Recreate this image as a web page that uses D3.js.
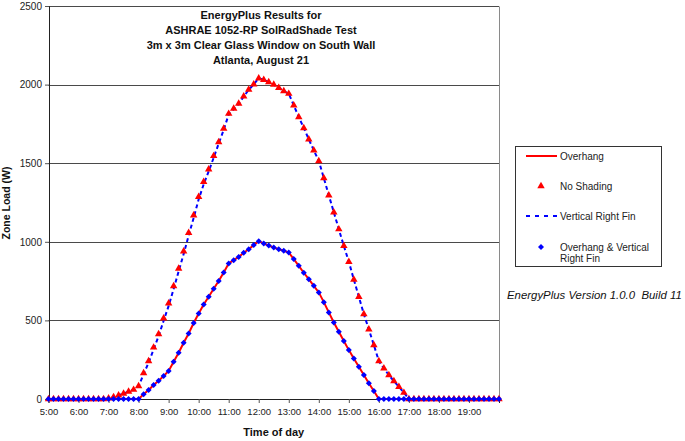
<!DOCTYPE html>
<html>
<head>
<meta charset="utf-8">
<script src="https://cdn.jsdelivr.net/npm/d3@7"></script>
<style>
  body { margin: 0; background: #fff; }
  svg { display: block; font-family: 'Liberation Sans', Arial, sans-serif; }
</style>
</head>
<body>
<svg id="chart" width="685" height="441"></svg>
<script>
// 10 minute time steps, 5:00 .. 20:00
const times = [
  '5:00', '5:10', '5:20', '5:30', '5:40', '5:50',
  '6:00', '6:10', '6:20', '6:30', '6:40', '6:50',
  '7:00', '7:10', '7:20', '7:30', '7:40', '7:50',
  '8:00', '8:10', '8:20', '8:30', '8:40', '8:50',
  '9:00', '9:10', '9:20', '9:30', '9:40', '9:50',
  '10:00', '10:10', '10:20', '10:30', '10:40', '10:50',
  '11:00', '11:10', '11:20', '11:30', '11:40', '11:50',
  '12:00', '12:10', '12:20', '12:30', '12:40', '12:50',
  '13:00', '13:10', '13:20', '13:30', '13:40', '13:50',
  '14:00', '14:10', '14:20', '14:30', '14:40', '14:50',
  '15:00', '15:10', '15:20', '15:30', '15:40', '15:50',
  '16:00', '16:10', '16:20', '16:30', '16:40', '16:50',
  '17:00', '17:10', '17:20', '17:30', '17:40', '17:50',
  '18:00', '18:10', '18:20', '18:30', '18:40', '18:50',
  '19:00', '19:10', '19:20', '19:30', '19:40', '19:50',
  '20:00'
]
const hourLabels = ['5:00', '6:00', '7:00', '8:00', '9:00', '10:00', '11:00', '12:00',
  '13:00', '14:00', '15:00', '16:00', '17:00', '18:00', '19:00']
const yTicks = [0, 500, 1000, 1500, 2000, 2500]

const overhang = [
  0, 0, 0, 0, 0, 0, 0, 0, 0, 0, 0, 0,
  0, 0, 0, 0, 0, 0,
  0, 30, 57, 89, 116, 146,
  178, 237, 294, 358, 417, 483,
  544, 601, 650, 701, 750, 805,
  862, 883, 904, 930, 953, 979,
  1004, 989, 976, 964, 953, 943,
  932, 890, 847, 803, 762, 720,
  678, 616, 551, 487, 428, 369,
  311, 258, 205, 152, 100, 51,
  0, 0, 0, 0, 0, 0,
  0, 0, 0, 0, 0, 0, 0, 0, 0, 0, 0, 0, 0, 0, 0, 0, 0, 0, 0
]
const noShading = [
  0, 0, 0, 0, 0, 0, 0, 0, 0, 0, 0, 0,
  4, 12, 24, 35, 47, 59,
  82, 165, 241, 328, 413, 513,
  608, 718, 830, 940, 1057, 1169,
  1286, 1381, 1461, 1546, 1635, 1720,
  1815, 1847, 1879, 1925, 1968, 2002,
  2040, 2031, 2016, 2000, 1980, 1959,
  1942, 1868, 1794, 1724, 1652, 1582,
  1514, 1406, 1296, 1188, 1080, 974,
  873, 760, 650, 540, 443, 343,
  241, 195, 152, 114, 78, 40,
  0, 0, 0, 0, 0, 0, 0, 0, 0, 0, 0, 0, 0, 0, 0, 0, 0, 0, 0
]
const verticalFin = [
  0, 0, 0, 0, 0, 0, 0, 0, 0, 0, 0, 0,
  4, 12, 24, 35, 47, 59,
  80, 158, 232, 316, 400, 498,
  592, 700, 812, 922, 1040, 1152,
  1270, 1366, 1448, 1535, 1625, 1712,
  1810, 1845, 1878, 1924, 1967, 2002,
  2040, 2031, 2016, 2000, 1980, 1959,
  1942, 1868, 1794, 1724, 1652, 1582,
  1514, 1406, 1296, 1188, 1080, 974,
  873, 760, 650, 540, 443, 343,
  241, 195, 152, 114, 78, 40,
  0, 0, 0, 0, 0, 0, 0, 0, 0, 0, 0, 0, 0, 0, 0, 0, 0, 0, 0
]
const overhangFin = [
  0, 0, 0, 0, 0, 0, 0, 0, 0, 0, 0, 0,
  0, 0, 0, 0, 0, 0,
  0, 30, 57, 89, 116, 146,
  178, 237, 294, 358, 417, 483,
  544, 601, 650, 701, 750, 805,
  862, 883, 904, 930, 953, 979,
  1004, 989, 976, 964, 953, 943,
  932, 890, 847, 803, 762, 720,
  678, 616, 551, 487, 428, 369,
  311, 258, 205, 152, 100, 51,
  0, 0, 0, 0, 0, 0,
  0, 0, 0, 0, 0, 0, 0, 0, 0, 0, 0, 0, 0, 0, 0, 0, 0, 0, 0
]

const titleLines = ['EnergyPlus Results for', 'ASHRAE 1052-RP SolRadShade Test',
  '3m x 3m Clear Glass Window on South Wall', 'Atlanta, August 21']
const legendNames = ['Overhang', 'No Shading', 'Vertical Right Fin', 'Overhang & Vertical|Right Fin']

const svg = d3.select('svg#chart')
const [plotLeft, plotRight, plotTop, plotBottom] = [48.5, 499, 6, 399]

const x = d3.scalePoint().domain(times).range([plotLeft, plotRight])
const y = d3.scaleLinear().domain([0, 2500]).range([plotBottom, plotTop])
const crisp = v => Math.round(v) + 0.5

svg.append('rect').attr('width', 685).attr('height', 441).attr('fill', '#fff')

// gridlines + right border
svg.append('g').selectAll('line')
  .data(yTicks.slice(1))
  .enter().append('line')
  .attr('x1', plotLeft).attr('x2', plotRight)
  .attr('y1', d => crisp(y(d))).attr('y2', d => crisp(y(d)))
  .attr('stroke', '#4a4a4a')

svg.append('line')
  .attr('x1', crisp(plotRight)).attr('x2', crisp(plotRight))
  .attr('y1', crisp(y(2500))).attr('y2', plotBottom)
  .attr('stroke', '#8a8a8a')

// axes
const yAxis = svg.append('g')
  .attr('transform', `translate(${crisp(plotLeft) - 0.5}, 0)`)
  .call(d3.axisLeft(y).tickValues(yTicks).tickFormat(d3.format('d')).tickSize(4).tickPadding(3))
const xAxis = svg.append('g')
  .attr('transform', `translate(0, ${crisp(plotBottom) - 0.5})`)
  .call(d3.axisBottom(x).tickValues(hourLabels).tickSize(4).tickPadding(5))

;[xAxis, yAxis].forEach(a => {
  a.select('.domain').attr('stroke', '#222')
  a.selectAll('.tick line').attr('stroke', '#555')
  a.selectAll('.tick text')
    .attr('fill', '#222')
    .style('font-family', "'Liberation Sans', Arial, sans-serif")
})
yAxis.selectAll('.tick text').style('font-size', '10px')
xAxis.selectAll('.tick text').style('font-size', '9.5px')

// series
const pts = arr => arr.map((v, i) => [x(times[i]), y(v)])
const line = d3.line()

svg.append('path')
  .attr('d', line(pts(overhang)))
  .attr('fill', 'none')
  .attr('stroke', '#ff0000')
  .attr('stroke-width', 2)

svg.append('path')
  .attr('d', line(pts(verticalFin)))
  .attr('fill', 'none')
  .attr('stroke', '#0000ff')
  .attr('stroke-width', 2)
  .attr('stroke-dasharray', '4,3')

const triangle = d3.symbol().type(d3.symbolTriangle).size(24)
const diamond = d3.symbol().type(d3.symbolSquare).size(18)

svg.append('g').selectAll('path')
  .data(pts(noShading))
  .enter().append('path')
  .attr('transform', p => `translate(${p[0]}, ${p[1]})`)
  .attr('d', triangle)
  .attr('fill', '#ff0000')

svg.append('g').selectAll('path')
  .data(pts(overhangFin))
  .enter().append('path')
  .attr('transform', p => `translate(${p[0]}, ${p[1]}) rotate(45)`)
  .attr('d', diamond)
  .attr('fill', '#0000ff')

// title
svg.append('g').selectAll('text')
  .data(titleLines)
  .enter().append('text')
  .attr('x', 261)
  .attr('y', (_, i) => 19 + i * 15)
  .style('text-anchor', 'middle')
  .style('font-size', '11px')
  .style('font-weight', 'bold')
  .attr('fill', '#111')
  .text(d => d)

svg.append('text')
  .attr('x', (plotLeft + plotRight) / 2)
  .attr('y', 436)
  .style('text-anchor', 'middle')
  .style('font-size', '11px')
  .style('font-weight', 'bold')
  .attr('fill', '#111')
  .text('Time of day')

svg.append('text')
  .attr('transform', 'translate(10, 203) rotate(-90)')
  .style('text-anchor', 'middle')
  .style('font-size', '10.5px')
  .style('font-weight', 'bold')
  .attr('fill', '#111')
  .text('Zone Load (W)')

// legend
const legend = svg.append('g')
legend.append('rect')
  .attr('x', 515.5).attr('y', 146.5)
  .attr('width', 146).attr('height', 120)
  .attr('fill', '#fff')
  .attr('stroke', '#333')

const rowY = [156, 186, 216, 247]
legend.append('line')
  .attr('x1', 526).attr('x2', 557).attr('y1', rowY[0]).attr('y2', rowY[0])
  .attr('stroke', '#ff0000').attr('stroke-width', 2)
legend.append('path')
  .attr('transform', `translate(541, ${rowY[1]})`)
  .attr('d', triangle).attr('fill', '#ff0000')
legend.append('line')
  .attr('x1', 526).attr('x2', 557).attr('y1', rowY[2]).attr('y2', rowY[2])
  .attr('stroke', '#0000ff').attr('stroke-width', 2)
  .attr('stroke-dasharray', '4,5')
legend.append('path')
  .attr('transform', `translate(541, ${rowY[3]}) rotate(45)`)
  .attr('d', diamond).attr('fill', '#0000ff')

legendNames.forEach((name, i) => {
  const t = legend.append('text')
    .attr('x', 560)
    .attr('y', rowY[i] + 3.5)
    .style('font-size', '10px')
    .attr('fill', '#222')
  name.split('|').forEach((part, j) => {
    t.append('tspan').attr('x', 560).attr('dy', j ? 11 : 0).text(part)
  })
})

svg.append('text')
  .attr('x', 507)
  .attr('y', 299)
  .style('font-size', '11.4px')
  .style('font-style', 'italic')
  .style('white-space', 'pre')
  .attr('fill', '#111')
  .text('EnergyPlus Version 1.0.0  Build 11')
</script>
</body>
</html>
